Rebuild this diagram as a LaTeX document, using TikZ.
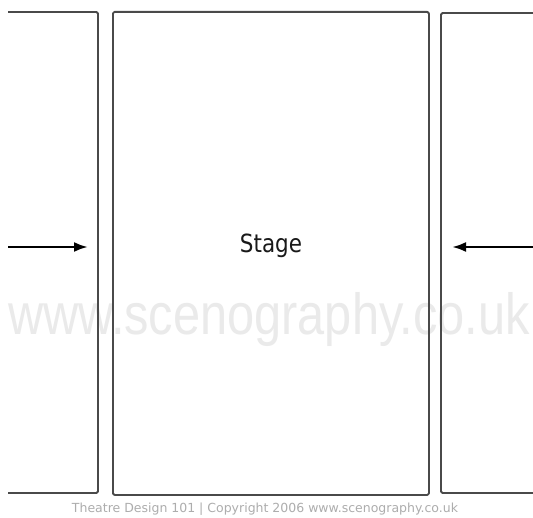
\documentclass[tikz,border=0pt]{standalone}
\usepackage{fontspec}
\setmainfont{DejaVu Sans}
\newfontfamily\markfont{Liberation Sans}
\usetikzlibrary{arrows.meta}
\definecolor{edgegray}{HTML}{4A4A4A}
\definecolor{markgray}{HTML}{EAEAEA}
\definecolor{creditgray}{HTML}{ADADAD}
\tikzset{
  wall/.style={draw=edgegray, line width=1.8pt, line join=round, rounded corners=1.5pt},
  pusharrow/.style={line width=2.5pt, black, -{Latex[length=14pt,width=10pt]}},
}
\begin{document}
\begin{tikzpicture}[x=1pt,y=-1pt]
  \useasboundingbox[fill=white] (0,0) rectangle (533,518);
  % faint watermark behind the plan
  \node[anchor=base west, inner sep=0pt, text=markgray, xscale=0.84,
        font=\markfont\fontsize{58}{58}\selectfont] (mark) at (8,335) {www.scenography.co.uk};
  % side wings, open towards the page edges
  \draw[wall] (8,12) -- (98,12) -- (98,493) -- (8,493);
  \draw[wall] (533,13) -- (441,13) -- (441,493) -- (533,493);
  % stage
  \node[wall, minimum width=316pt, minimum height=483pt, inner sep=0pt, anchor=north west] (stage) at (112,11) {};
  \node[anchor=base, inner sep=0pt, text=black!90, xscale=0.86,
        font=\fontsize{25}{25}\selectfont] (label) at (271,253) {Stage};
  % entrances from the wings
  \coordinate (lt) at (8,247);
  \coordinate (lh) at (88,247);
  \coordinate (rt) at (533,247);
  \coordinate (rh) at (452,247);
  \draw[pusharrow] (lt) -- (lh);
  \draw[pusharrow] (rt) -- (rh);
  % credit line
  \node[anchor=base, text=creditgray, font=\fontsize{12.5}{12.5}\selectfont, inner sep=0pt]
        (credit) at (265,512) {Theatre Design 101 | Copyright 2006 www.scenography.co.uk};
\end{tikzpicture}
\end{document}
